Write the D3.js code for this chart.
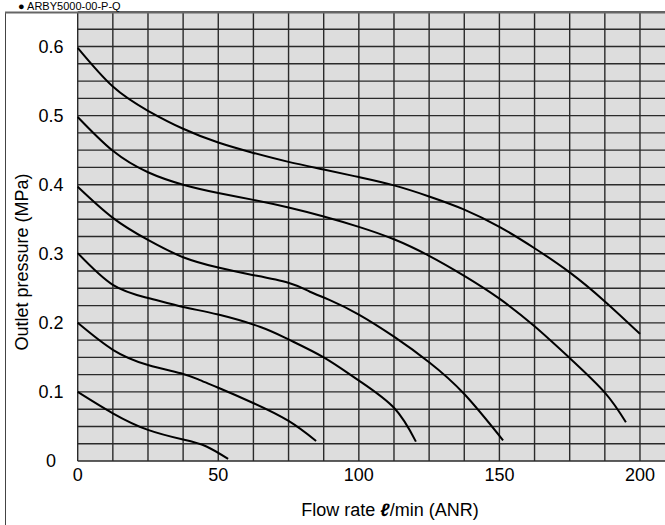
<!DOCTYPE html>
<html>
<head>
<meta charset="utf-8">
<script src="https://cdn.jsdelivr.net/npm/d3@7"></script>
<style>
  html, body { margin: 0; padding: 0; background: #fff; }
  svg { display: block; font-family: "Liberation Sans", Arial, Helvetica, sans-serif; }
</style>
</head>
<body>
<svg id="chart" width="665" height="525"></svg>
<script>
// ---- data ----
const titleText = "● ARBY5000-00-P-Q";
const xTicks = [0, 50, 100, 150, 200];
const yTicks = [0, 0.1, 0.2, 0.3, 0.4, 0.5, 0.6];
const xTickLabels = ["0", "50", "100", "150", "200"];
const yTickLabels = ["0", "0.1", "0.2", "0.3", "0.4", "0.5", "0.6"];

const curve06 = [[0,0.598],[12.5,0.542],[25,0.507],[37.5,0.481],[50,0.461],[62.5,0.446],[75,0.433],[87.5,0.422],[100,0.411],[112.5,0.399],[125,0.383],[137.5,0.364],[150,0.339],[162.5,0.308],[175,0.273],[187.5,0.231],[200,0.184]];
const curve05 = [[0,0.498],[12.5,0.449],[25,0.418],[37.5,0.4],[50,0.388],[62.5,0.378],[75,0.367],[87.5,0.354],[100,0.339],[112.5,0.321],[125,0.297],[137.5,0.268],[150,0.235],[162.5,0.195],[175,0.149],[187.5,0.099],[195,0.056]];
const curve04 = [[0,0.397],[12.5,0.352],[25,0.32],[37.5,0.295],[50,0.28],[61.3,0.27],[74.9,0.258],[82.6,0.245],[89.7,0.233],[100,0.212],[112.5,0.18],[125,0.143],[137.5,0.097],[151.3,0.03]];
const curve03 = [[0,0.301],[12.5,0.255],[25,0.236],[37.5,0.223],[50,0.212],[65,0.194],[75,0.176],[87.5,0.15],[99.8,0.117],[112.5,0.077],[120.3,0.028]];
const curve02 = [[0,0.2],[12.5,0.161],[25,0.139],[37.5,0.126],[43.5,0.117],[50,0.106],[62.4,0.084],[75,0.058],[84.8,0.029]];
const curve01 = [[0,0.1],[12.5,0.069],[25,0.045],[37.5,0.031],[45.8,0.021],[53.5,0.003]];
const seriesList = [curve06, curve05, curve04, curve03, curve02, curve01];

// ---- layout ----
const svg = d3.select("#chart");
const mLeft = 77.7, mRight = 665, mTop = 12, mBottom = 461;
const x = d3.scaleLinear().domain([0, 208.9]).range([mLeft, mRight]);
const y = d3.scaleLinear().domain([0, 0.65]).range([mBottom, mTop]);

// outer frame
svg.append("rect").attr("x", 5.5).attr("y", 12.5).attr("width", 700).attr("height", 600)
  .attr("fill", "none").attr("stroke", "#444").attr("stroke-width", 1);

// plot background
svg.append("rect").attr("x", mLeft).attr("y", mTop).attr("width", mRight - mLeft).attr("height", mBottom - mTop)
  .attr("fill", "#dddddd");

// grid
const gx = d3.range(0, 209, 12.5);
const gy = d3.range(0, 0.651, 0.025);
svg.append("g").selectAll("line").data(gx).join("line")
  .attr("x1", d => x(d)).attr("x2", d => x(d)).attr("y1", mTop).attr("y2", mBottom)
  .attr("stroke", "#2a2a2a").attr("stroke-width", 1.4);
svg.append("g").selectAll("line").data(gy).join("line")
  .attr("x1", mLeft).attr("x2", mRight).attr("y1", d => y(d)).attr("y2", d => y(d))
  .attr("stroke", "#2a2a2a").attr("stroke-width", 1.4);
svg.append("line").attr("x1", 5).attr("x2", 665).attr("y1", 12.5).attr("y2", 12.5)
  .attr("stroke", "#666").attr("stroke-width", 2);

// curves
const line = d3.line().x(d => x(d[0])).y(d => y(d[1])).curve(d3.curveNatural);
svg.append("g").selectAll("path").data(seriesList).join("path")
  .attr("d", line).attr("fill", "none").attr("stroke", "#000").attr("stroke-width", 2);

// tick labels
svg.append("g").selectAll("text").data(yTicks).join("text")
  .attr("x", 51).attr("y", d => y(d)).attr("dy", "0.35em").attr("text-anchor", "middle")
  .attr("font-size", 18).text((d, i) => yTickLabels[i]);
svg.append("g").selectAll("text").data(xTicks).join("text")
  .attr("x", d => x(d)).attr("y", 481).attr("text-anchor", "middle")
  .attr("font-size", 18).text((d, i) => xTickLabels[i]);

// axis titles
const xt = svg.append("text").attr("x", 390).attr("y", 516).attr("text-anchor", "middle").attr("font-size", 18);
xt.append("tspan").text("Flow rate ");
xt.append("tspan").attr("font-style", "italic").attr("font-weight", "bold").text("ℓ");
xt.append("tspan").text("/min (ANR)");

svg.append("text").attr("transform", "translate(28,262) rotate(-90)").attr("text-anchor", "middle")
  .attr("font-size", 18).text("Outlet pressure (MPa)");

// title (top edge)
svg.append("text").attr("x", 18).attr("y", 9.5).attr("font-size", 11).text(titleText);
</script>
</body>
</html>
